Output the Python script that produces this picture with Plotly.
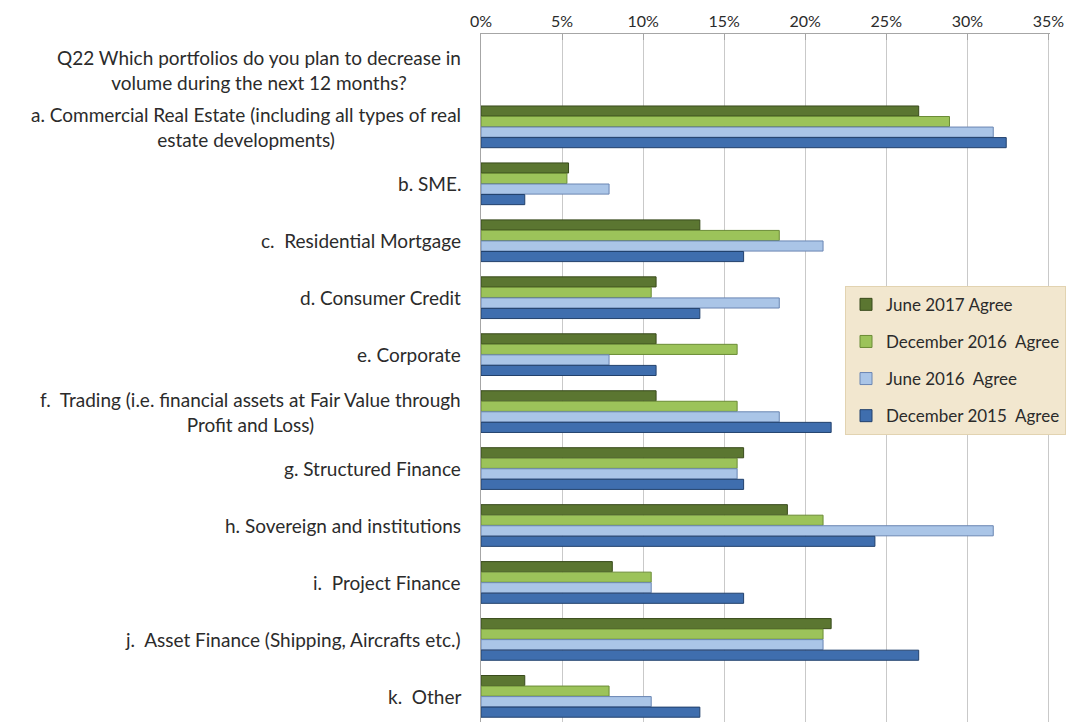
import plotly.graph_objects as go

# Survey question and portfolio categories (top to bottom)
question = "Q22 Which portfolios do you plan to decrease in<br>volume during the next 12 months?"
categories = [
    "a. Commercial Real Estate (including all types of real<br>estate developments)",
    "b. SME.",
    "c.  Residential Mortgage",
    "d. Consumer Credit",
    "e. Corporate",
    "f.  Trading (i.e. financial assets at Fair Value through<br>Profit and Loss)",
    "g. Structured Finance",
    "h. Sovereign and institutions",
    "i.  Project Finance",
    "j.  Asset Finance (Shipping, Aircrafts etc.)",
    "k.  Other",
]

series_names = [
    "June 2017 Agree",
    "December 2016\u00a0 Agree",
    "June 2016\u00a0 Agree",
    "December 2015\u00a0 Agree",
]

# Share of respondents (%) per portfolio
june_2017 = [27.0, 5.4, 13.5, 10.8, 10.8, 10.8, 16.2, 18.9, 8.1, 21.6, 2.7]
dec_2016 = [28.9, 5.3, 18.4, 10.5, 15.8, 15.8, 15.8, 21.1, 10.5, 21.1, 7.9]
june_2016 = [31.6, 7.9, 21.1, 18.4, 7.9, 18.4, 15.8, 31.6, 10.5, 21.1, 10.5]
dec_2015 = [32.4, 2.7, 16.2, 13.5, 10.8, 21.6, 16.2, 24.3, 16.2, 27.0, 13.5]

x_ticks = [0, 5, 10, 15, 20, 25, 30, 35]

series_values = [june_2017, dec_2016, june_2016, dec_2015]
fills = ["#5B7631", "#9CC35A", "#AAC5E7", "#3F6EAE"]
edges = ["#394B1C", "#6B8C36", "#6A86B3", "#22416C"]

font_family = "Lato, 'Open Sans', sans-serif"
text_color = "#2b2b2b"

fig = go.Figure()
for i, (name, vals) in enumerate(zip(series_names, series_values)):
    fig.add_trace(go.Bar(
        y=categories,
        x=vals,
        name=name,
        orientation="h",
        legendgroup=f"g{i}",
        marker=dict(color=fills[i], line=dict(color=edges[i], width=1)),
        hovertemplate="%{x:.1f}%<extra>" + name + "</extra>",
    ))

all_rows = [question] + categories

# Category labels: right-anchored, wrapped lines centred on each other
annotations = []
for row in all_rows:
    annotations.append(dict(
        x=0, xref="paper", y=row, yref="y",
        xanchor="right", yanchor="middle", xshift=-18,
        text=row, showarrow=False, align="center",
        font=dict(family=font_family, size=19, color=text_color),
    ))

fig.update_layout(
    width=1066, height=722,
    margin=dict(l=481, r=14, t=34, b=0),
    paper_bgcolor="white",
    plot_bgcolor="white",
    barmode="group",
    bargap=0.26,
    bargroupgap=0.04,
    font=dict(family=font_family, size=17, color=text_color),
    xaxis=dict(
        side="top",
        range=[0, 35.1],
        tickvals=x_ticks,
        ticktext=[f"{v}%" for v in x_ticks],
        showgrid=True, gridcolor="#c9c9c9", gridwidth=1,
        showline=True, linecolor="#a6a6a6", linewidth=1,
        ticks="inside", ticklen=6, tickcolor="#a6a6a6",
        zeroline=False,
        ticklabeloverflow="allow",
        tickfont=dict(family=font_family, size=16, color=text_color),
        fixedrange=True,
    ),
    yaxis=dict(
        type="category",
        categoryorder="array",
        categoryarray=all_rows,
        range=[11.45, -0.63],
        showticklabels=False,
        showgrid=False,
        showline=True, linecolor="#a6a6a6", linewidth=1,
        ticks="",
        fixedrange=True,
    ),
    legend=dict(
        x=0.64, y=0.634, xanchor="left", yanchor="top",
        bgcolor="#f2e7cf",
        bordercolor="#e2d3b1", borderwidth=1,
        tracegroupgap=12,
        font=dict(family=font_family, size=17, color=text_color),
        itemwidth=30,
    ),
    annotations=annotations,
    showlegend=True,
)

fig.write_html("out.html")
